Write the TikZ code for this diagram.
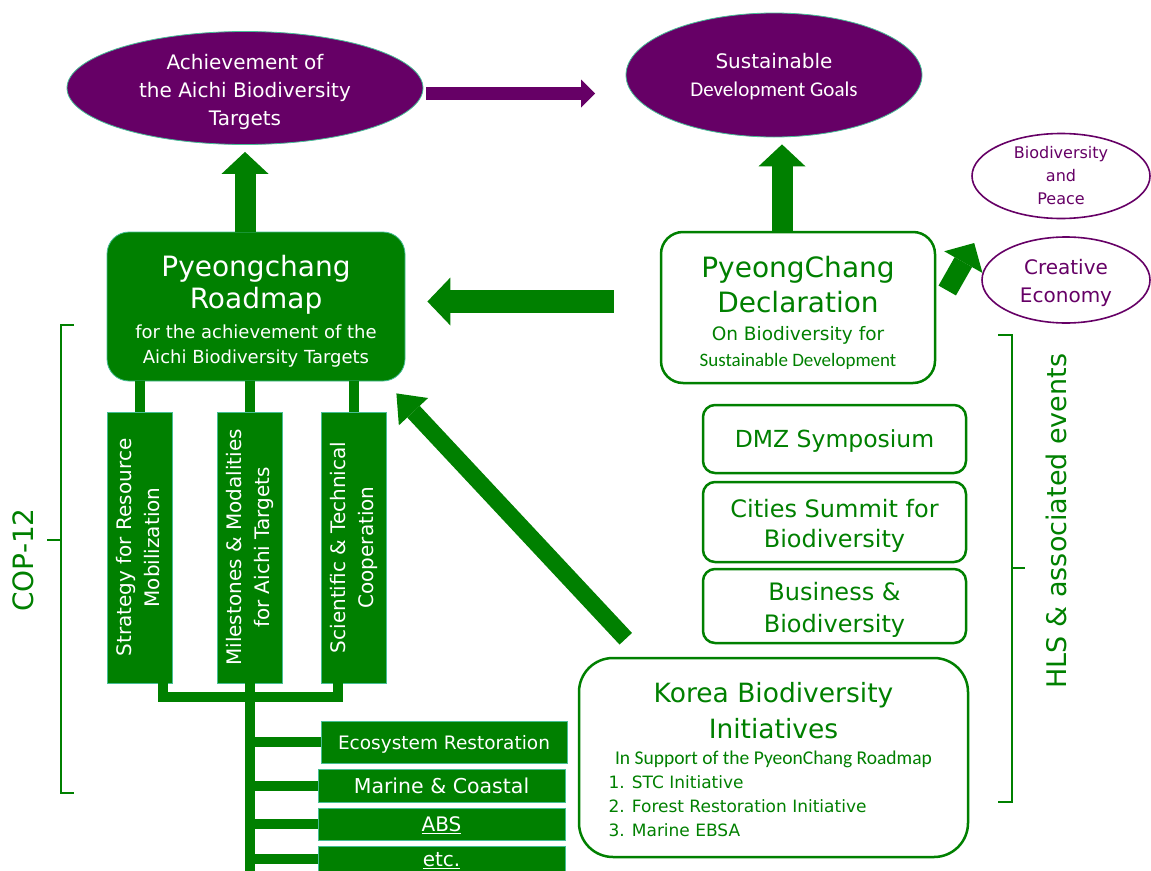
\documentclass[tikz,border=0pt]{standalone}
\usepackage{fontspec}
\usepackage{graphicx}
\setmainfont{DejaVu Sans}
\newfontfamily\cond{Carlito}
\usetikzlibrary{shapes.geometric,arrows.meta,calc}
\definecolor{gr}{RGB}{0,128,0}
\definecolor{pu}{RGB}{102,0,102}
\definecolor{glow}{RGB}{70,190,150}
\newcommand{\fsz}[2]{\fontsize{#1}{#2}\selectfont}
\begin{document}
\begin{tikzpicture}[x=1pt,y=-1pt,
  ell/.style={ellipse, fill=pu, draw=glow, line width=0.8pt, inner sep=0pt},
  oell/.style={ellipse, draw=pu, line width=1.6pt, fill=white, inner sep=0pt},
  gbox/.style={rectangle, fill=gr, draw=glow, line width=0.8pt, text=white, align=center, inner sep=0pt, text depth=0pt},
  wbox/.style={rectangle, draw=gr, line width=2.5pt, fill=white, text=gr, align=center, inner sep=0pt, rounded corners=12pt, text depth=0pt},
  txt/.style={align=center, inner sep=0pt},
  bar/.style={draw=gr, line width=10pt},
  brk/.style={draw=gr, line width=2.5pt},
  blk/.style args={#1/#2/#3}{draw=gr, line width=#1, -{Triangle[width=#2,length=#3,line width=0pt]}},
]
\clip (0,0) rectangle (1151,870);
\fill[white] (0,0) rectangle (1151,870);

% top ellipses
\node[ell, minimum width=356pt, minimum height=113pt] (aichi) at (245,88) {};
\node[txt, text=white, font=\fsz{20}{28}] (aichiT) at ([yshift=-4pt]aichi.center)
  {Achievement of\\the Aichi Biodiversity\\Targets};
\node[ell, minimum width=296pt, minimum height=124pt] (sdg) at (774,75) {};
\node[txt, text=white, font=\fsz{20}{28}] (sdgT) at ([yshift=-2pt]sdg.center)
  {Sustainable\\\cond\fsz{21}{28}Development Goals};
\node[oell, minimum width=178pt, minimum height=85pt] (bp) at (1061,176) {};
\node[txt, text=pu, font=\fsz{16}{23}] (bpT) at (bp.center) {Biodiversity\\and\\Peace};
\node[oell, minimum width=168pt, minimum height=86pt] (ce) at (1066,280) {};
\node[txt, text=pu, font=\fsz{20}{28}] (ceT) at ([yshift=-3pt]ce.center) {Creative\\Economy};

% main boxes
\node[gbox, rounded corners=22pt, minimum width=298pt, minimum height=149pt] (road) at (256,306.5) {};
\node[txt, text=white, font=\fsz{28}{32}] (roadT) at ([yshift=-5pt]road.center)
  {Pyeongchang\\Roadmap\\[-2pt]\fsz{18}{24}for the achievement of the\\[-7pt]\fsz{18}{24}Aichi Biodiversity Targets};
\node[wbox, rounded corners=22pt, minimum width=274pt, minimum height=151pt] (decl) at (798,307.5) {};
\node[txt, text=gr, font=\fsz{28}{35}] (declT) at ([yshift=-5pt]decl.center)
  {PyeongChang\\Declaration\\[-7pt]\fsz{18.5}{25}On Biodiversity for\\[-9pt]\cond\fsz{19}{25}Sustainable Development};

% vertical boxes
\node[gbox, minimum width=65pt, minimum height=271pt] (v1) at (139.5,547.5)
  {\rotatebox{90}{\fsz{20}{28}\begin{tabular}{@{}c@{}}Strategy for Resource\\Mobilization\end{tabular}}};
\node[gbox, minimum width=65pt, minimum height=271pt] (v2) at (250,547.5)
  {\rotatebox{90}{\fsz{20}{28}\begin{tabular}{@{}c@{}}Milestones \& Modalities\\for Aichi Targets\end{tabular}}};
\node[gbox, minimum width=65pt, minimum height=271pt] (v3) at (353.5,547.5)
  {\rotatebox{90}{\fsz{20}{28}\begin{tabular}{@{}c@{}}Scientific \& Technical\\Cooperation\end{tabular}}};

% bottom boxes
\node[gbox, minimum width=246pt, minimum height=42pt, font=\fsz{18.5}{20}] (eco) at (444,742) {Ecosystem Restoration};
\node[gbox, minimum width=247pt, minimum height=33pt, font=\fsz{20.5}{22}] (mar) at (441.5,785.5) {Marine \& Coastal};
\node[gbox, minimum width=247pt, minimum height=32pt, font=\fsz{20}{22}] (abs) at (441.5,824) {\underline{ABS}};
\node[gbox, minimum width=247pt, minimum height=26pt, font=\fsz{20}{22}] (etc) at (441.5,859) {\underline{etc.}};

% event boxes
\node[wbox, minimum width=263pt, minimum height=68pt, font=\fsz{23.5}{30}] (dmz) at (834.5,439) {DMZ Symposium};
\node[wbox, minimum width=263pt, minimum height=80pt] (cit) at (834.5,522) {};
\node[txt, text=gr, font=\fsz{24}{30}] (citT) at ([yshift=-4pt]cit.center) {Cities Summit for\\Biodiversity};
\node[wbox, minimum width=263pt, minimum height=74pt] (biz) at (834.5,606) {};
\node[txt, text=gr, font=\fsz{24}{32}] (bizT) at ([yshift=-4pt]biz.center) {Business \&\\Biodiversity};
\node[wbox, rounded corners=34pt, minimum width=389pt, minimum height=199pt] (korea) at (773.5,757.5) {};
\node[txt, text=gr, font=\fsz{26.5}{36}] (koreaT) at ([yshift=-2pt]korea.center)
  {Korea Biodiversity\\Initiatives\\[-10pt]
   \cond\fsz{19.5}{26}In Support of the PyeonChang Roadmap\\[-12pt]
   \fsz{17}{24}\makebox[330pt][l]{1. STC Initiative}\\[-12pt]
   \fsz{17}{24}\makebox[330pt][l]{2. Forest Restoration Initiative}\\[-12pt]
   \fsz{17}{24}\makebox[330pt][l]{3. Marine EBSA}};

% tree connectors
\draw[bar] (road.south -| v1.north) -- (v1.north);
\draw[bar] (road.south -| v2.north) -- (v2.north);
\draw[bar] (road.south -| v3.north) -- (v3.north);
\coordinate (b1) at ($(v1.south east)+(-9,0)$);
\coordinate (b3) at ($(v3.south west)+(17,0)$);
\draw[bar] (b1) -- ++(0,14) -| (b3);
\draw[bar] (v2.south) -- (v2.south |- 0,880);
\draw[bar] (v2.south |- eco.west) -- (eco.west);
\draw[bar] (v2.south |- mar.west) -- (mar.west);
\draw[bar] (v2.south |- abs.west) -- (abs.west);
\draw[bar] (v2.south |- etc.west) -- (etc.west);

% block arrows
\draw[blk=21pt/47pt/22pt, shorten >=7pt] (road.north -| aichi.south) -- (aichi.south);
\draw[blk=21pt/47pt/22pt, shorten >=7pt] ([xshift=8pt]decl.north -| sdg.south) -- ([xshift=8pt]sdg.south);
\draw[draw=pu, line width=13pt, -{Triangle[width=28pt,length=14pt,line width=0pt]}] ([xshift=3pt]aichi.east |- 0,93.5) -- (595,93.5);
\draw[blk=23pt/48pt/23pt, shorten <=46pt, shorten >=22pt] ([yshift=6pt]decl.west) -- ([yshift=6pt]decl.west -| road.east);
\coordinate (kt) at ($(korea.north west)+(48,-18)$);
\coordinate (rt) at ($(road.south east)+(-9,12)$);
\draw[blk=17pt/40pt/25pt] (kt) -- (rt);
\coordinate (dt) at ($(decl.east)+(11,-17)$);
\coordinate (ct) at ($(ce.west)+(-7,-37)$);
\draw[blk=20pt/44pt/22pt] (dt) -- (ct);

% brackets
\draw[brk] (74,325) -- (61,325) -- (61,793) -- (74,793);
\draw[brk] (61,540) -- (47,540);
\draw[brk] (998,335) -- (1012,335) -- (1012,802) -- (998,802);
\draw[brk] (1012,568) -- (1025,568);
\node[text=gr, rotate=90, font=\fsz{28}{32}] (cop) at (23,560) {COP-12};
\node[text=gr, rotate=90, font=\fsz{27}{32}] (hls) at (1056,521) {HLS \& associated events};
\end{tikzpicture}
\end{document}
